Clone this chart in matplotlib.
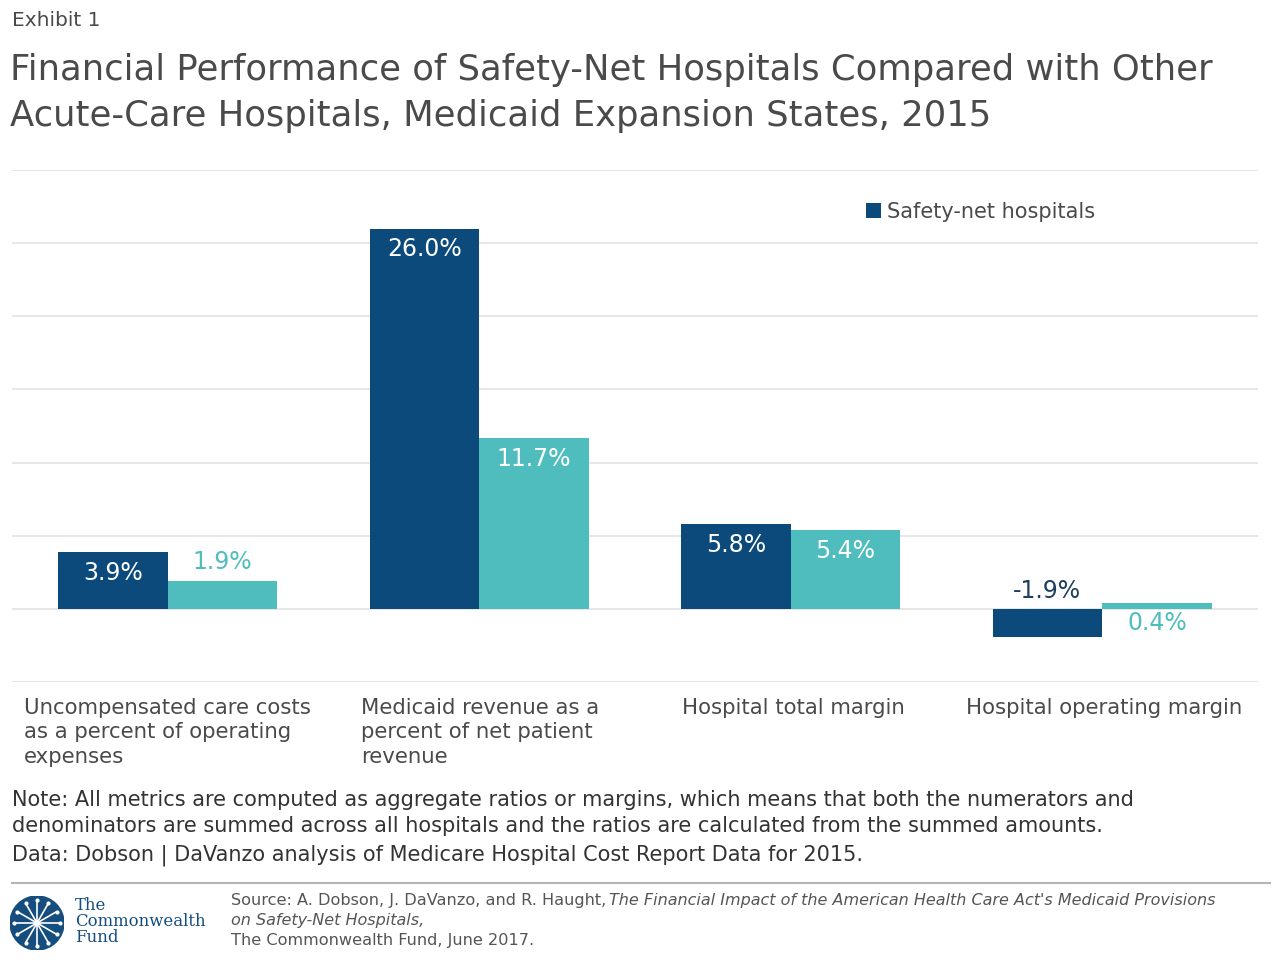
import numpy as np
import matplotlib.pyplot as plt
from matplotlib.patches import Circle

plt.rcParams['font.family'] = ['DejaVu Sans']

categories = [
    'Uncompensated care costs\nas a percent of operating\nexpenses',
    'Medicaid revenue as a\npercent of net patient\nrevenue',
    'Hospital total margin',
    'Hospital operating margin',
]
safety_net = [3.9, 26.0, 5.8, -1.9]
other_acute = [1.9, 11.7, 5.4, 0.4]

dark = '#0b4a7b'
teal = '#4fbdbd'
grid_c = '#e3e3e3'
text_c = '#4a4a4a'

W, H = 1280, 960
fig = plt.figure(figsize=(12.8, 9.6), dpi=100)


def fx(px):
    return px / W


def fy(py):
    return 1 - py / H


ax = fig.add_axes([fx(12), fy(682), fx(1258) - fx(12), fy(170) - fy(682)])

x = np.arange(len(categories))
w = 0.352
b1 = ax.bar(x - w / 2, safety_net, w, color=dark, label='Safety-net hospitals', zorder=3)
b2 = ax.bar(x + w / 2, other_acute, w, color=teal, zorder=3)

ax.set_xlim(-0.5, 3.5)
ax.set_ylim(-5, 30)
ax.set_yticks(np.arange(-5, 31, 5))
ax.grid(axis='y', color=grid_c, linewidth=1.2, zorder=0)
ax.tick_params(left=False, bottom=False, labelleft=False, labelbottom=False)
for s in ax.spines.values():
    s.set_visible(False)

# value labels
vfs = 17
for rect, v in zip(b1, safety_net):
    cx = rect.get_x() + rect.get_width() / 2
    if v >= 0:
        ax.annotate(f'{v:.1f}%', (cx, v), xytext=(0, -15), textcoords='offset points',
                    ha='center', va='center', color='white', fontsize=vfs)
    else:
        ax.annotate(f'{v:.1f}%', (cx, 0), xytext=(0, 13), textcoords='offset points',
                    ha='center', va='center', color='#1f3f5f', fontsize=vfs)
for rect, v in zip(b2, other_acute):
    cx = rect.get_x() + rect.get_width() / 2
    if v > 3:
        ax.annotate(f'{v:.1f}%', (cx, v), xytext=(0, -15), textcoords='offset points',
                    ha='center', va='center', color='white', fontsize=vfs)
    elif v > 1:
        ax.annotate(f'{v:.1f}%', (cx, v), xytext=(0, 14), textcoords='offset points',
                    ha='center', va='center', color=teal, fontsize=vfs)
    else:
        ax.annotate(f'{v:.1f}%', (cx, 0), xytext=(0, -10), textcoords='offset points',
                    ha='center', va='center', color=teal, fontsize=vfs)

leg = ax.legend(loc='upper left', bbox_to_anchor=((866 - 12) / 1246, (682 - 202) / 512),
                frameon=False, fontsize=15, handlelength=0.7, handleheight=0.7,
                handletextpad=0.3, borderpad=0, borderaxespad=0)
for t in leg.get_texts():
    t.set_color(text_c)

# category labels
label_x = [24, 361, 682, 966]
for lx, lab in zip(label_x, categories):
    fig.text(fx(lx), fy(698), lab, ha='left', va='top', fontsize=15.3,
             color=text_c, linespacing=1.27)

# header
fig.text(fx(12), fy(20), 'Exhibit 1', ha='left', va='center', fontsize=14.5, color=text_c)
fig.text(fx(10), fy(70), 'Financial Performance of Safety-Net Hospitals Compared with Other',
         ha='left', va='center', fontsize=25.5, color=text_c)
fig.text(fx(10), fy(116), 'Acute-Care Hospitals, Medicaid Expansion States, 2015',
         ha='left', va='center', fontsize=25.5, color=text_c)

# notes
note_c = '#333333'
fig.text(fx(12), fy(800), 'Note: All metrics are computed as aggregate ratios or margins, which means that both the numerators and',
         ha='left', va='center', fontsize=15, color=note_c)
fig.text(fx(12), fy(826), 'denominators are summed across all hospitals and the ratios are calculated from the summed amounts.',
         ha='left', va='center', fontsize=15, color=note_c)
fig.text(fx(12), fy(855), 'Data: Dobson | DaVanzo analysis of Medicare Hospital Cost Report Data for 2015.',
         ha='left', va='center', fontsize=15, color=note_c)

# separator
fig.add_artist(plt.Line2D([fx(12), fx(1270)], [fy(883), fy(883)], color='#b5b5b5', linewidth=1.5))

# source
src_c = '#555555'
fig.text(fx(231), fy(901), 'Source: A. Dobson, J. DaVanzo, and R. Haught, ', ha='left', va='center',
         fontsize=11.6, color=src_c)
fig.text(fx(609), fy(901), "The Financial Impact of the American Health Care Act's Medicaid Provisions",
         ha='left', va='center', fontsize=11.5, color=src_c, style='italic')
fig.text(fx(231), fy(920), 'on Safety-Net Hospitals,', ha='left', va='center',
         fontsize=11.5, color=src_c, style='italic')
fig.text(fx(231), fy(940), 'The Commonwealth Fund, June 2017.', ha='left', va='center',
         fontsize=11.6, color=src_c)

# logo
lax = fig.add_axes([fx(10), fy(950), fx(54), fy(896) - fy(950)])
lax.set_xlim(-1, 1)
lax.set_ylim(-1, 1)
lax.set_aspect('equal')
lax.axis('off')
lax.add_patch(Circle((0, 0), 1, color='#144d7e'))
for a in np.linspace(0, 2 * np.pi, 12, endpoint=False):
    lax.plot([0.15 * np.cos(a), 0.8 * np.cos(a)], [0.15 * np.sin(a), 0.8 * np.sin(a)],
             color='white', linewidth=1.2)
    lax.plot(0.85 * np.cos(a), 0.85 * np.sin(a), 'o', color='white', markersize=2)
lax.add_patch(Circle((0, 0), 0.1, color='white'))
for i, line in enumerate(['The', 'Commonwealth', 'Fund']):
    fig.text(fx(75), fy(906 + i * 16), line, ha='left', va='center', fontsize=11.9,
             color='#144d7e', family='DejaVu Serif')

fig.savefig('out.png', dpi=100)
